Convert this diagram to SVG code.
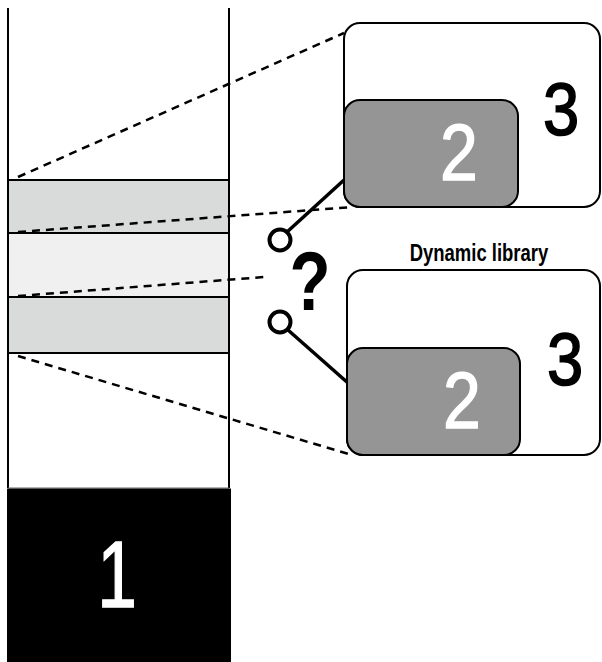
<svg xmlns="http://www.w3.org/2000/svg" width="602" height="662" viewBox="0 0 602 662">
<style>
.edge{stroke:#000;stroke-width:2;fill:none}
.dash{stroke:#000;stroke-width:2.5;stroke-dasharray:8 6;fill:none}
.conn{stroke:#000;stroke-width:3.5;fill:none}
.ring{stroke:#000;stroke-width:4;fill:#fff}
.box3{fill:#fff;stroke:#000;stroke-width:2}
.box2{fill:#959595;stroke:#000;stroke-width:2}
.num{font-family:"Liberation Sans",Arial,sans-serif;text-anchor:middle}
.blk{fill:#000;stroke:#000;stroke-width:1.6}
.wht{fill:#fff;stroke:#fff;stroke-width:1.4}
.lbl{font-family:"Liberation Sans",Arial,sans-serif;text-anchor:middle;font-size:24px;font-weight:bold}
</style>
<rect width="602" height="662" fill="#fff"/>
<g id="column">
  <rect x="8" y="180" width="221" height="53" fill="#d9dbda"/>
  <rect x="8" y="233" width="221" height="64" fill="#f0f0f0"/>
  <rect x="8" y="297" width="221" height="56" fill="#d9dbda"/>
  <line class="edge" x1="8" y1="8" x2="8" y2="488"/>
  <line class="edge" x1="229" y1="8" x2="229" y2="488"/>
  <line class="edge" x1="8" y1="180" x2="229" y2="180"/>
  <line class="edge" x1="8" y1="233" x2="229" y2="233"/>
  <line class="edge" x1="8" y1="297" x2="229" y2="297"/>
  <line class="edge" x1="8" y1="353" x2="229" y2="353"/>
  <line x1="8" y1="488" x2="229" y2="488" stroke="#666" stroke-width="1"/>
</g>
<g id="node1">
  <rect x="7" y="488.5" width="224" height="174" fill="#000"/>
  <text class="num wht" transform="translate(117,607) scale(0.75,1)" font-size="95" stroke-width="2.4">1</text>
</g>
<g id="connectors">
  <line class="dash" x1="18" y1="177" x2="344" y2="33"/>
  <line class="dash" x1="18" y1="232" x2="353" y2="207"/>
  <line class="dash" x1="18" y1="296" x2="264" y2="277"/>
  <line class="dash" x1="18" y1="356" x2="352" y2="455"/>
  <line class="conn" x1="287" y1="232" x2="344" y2="180"/>
  <line class="conn" x1="288" y1="330" x2="348" y2="383"/>
  <circle class="ring" cx="280" cy="240" r="10.5"/>
  <circle class="ring" cx="280" cy="322" r="10.5"/>
</g>
<g id="lib-top">
  <rect class="box3" x="344" y="23" width="256" height="184" rx="16"/>
  <text class="num blk" transform="translate(561,135) scale(0.88,1)" font-size="74">3</text>
</g>
<g id="obj-top">
  <rect class="box2" x="344" y="100" width="174" height="107" rx="16"/>
  <text class="num wht" transform="translate(459,180) scale(0.85,1)" font-size="80">2</text>
</g>
<g id="question">
  <text class="num" transform="translate(310,310) scale(0.8,1)" font-size="84" font-weight="bold" fill="#000">?</text>
</g>
<g id="lib-bottom">
  <text class="lbl" transform="translate(479,261) scale(0.77,1)" fill="#000">Dynamic library</text>
  <rect class="box3" x="347" y="270" width="253" height="185" rx="16"/>
  <text class="num blk" transform="translate(565,385) scale(0.88,1)" font-size="74">3</text>
</g>
<g id="obj-bottom">
  <rect class="box2" x="347" y="348" width="173" height="107" rx="16"/>
  <text class="num wht" transform="translate(462,428) scale(0.85,1)" font-size="80">2</text>
</g>
</svg>
